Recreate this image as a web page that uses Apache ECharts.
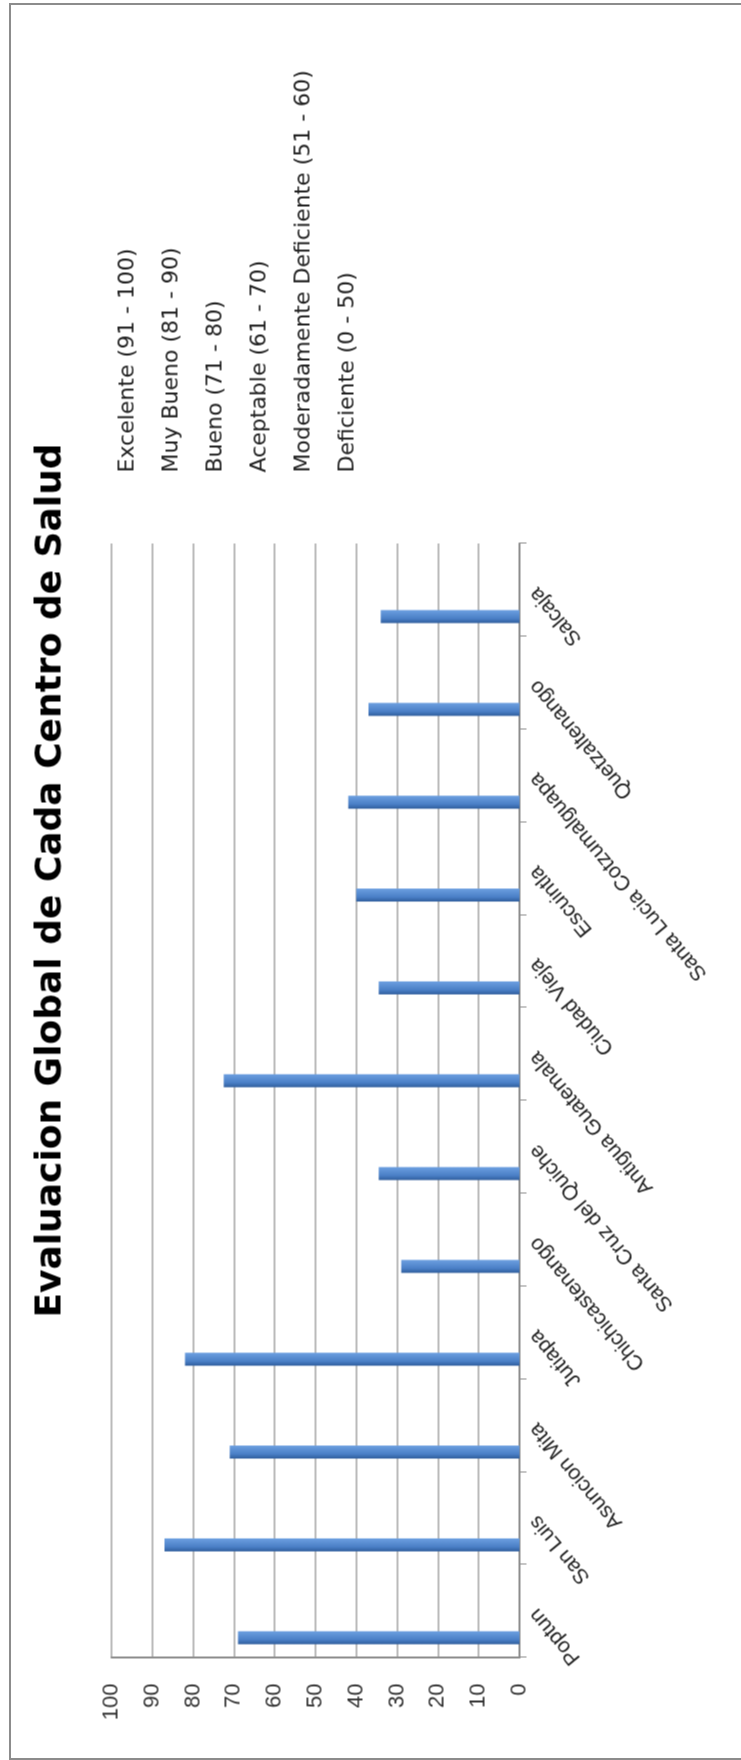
<!DOCTYPE html>
<html>
<head>
<meta charset="utf-8">
<script src="https://cdn.jsdelivr.net/npm/echarts@6/dist/echarts.min.js"></script>
<style>
html, body { margin: 0; padding: 0; background: #fff; }
body { width: 741px; height: 1760px; position: relative; overflow: hidden; }
#frame {
	position: absolute; left: 9px; top: 3px; width: 740px; height: 1753px;
	border-left: 2px solid #8c8c8c; border-top: 2px solid #8c8c8c; border-bottom: 2px solid #8c8c8c;
}
/* the chart is drawn landscape and turned a quarter to the left */
#chart {
	position: absolute; width: 1760px; height: 741px;
	left: -509.5px; top: 509.5px;
	transform: rotate(-90deg);
}
</style>
</head>
<body>
<div id="frame"></div>
<div id="chart"></div>
<script>
var centros = ['Poptun', 'San Luis', 'Asuncion Mita', 'Jutiapa', 'Chichicastenango',
	'Santa Cruz del Quiche', 'Antigua Guatemala', 'Ciudad Vieja', 'Escuintla',
	'Santa Lucia Cotzumalguapa', 'Quetzaltenango', 'Salcaja'];
var evaluacion = [69, 87, 71, 82, 29, 34.5, 72.5, 34.5, 40, 42, 37, 34];
var categorias = ['Excelente (91 - 100)', 'Muy Bueno (81 - 90)', 'Bueno (71 - 80)',
	'Aceptable (61 - 70)', 'Moderadamente Deficiente (51 - 60)', 'Deficiente (0 - 50)'];
var valorTicks = [0, 10, 20, 30, 40, 50, 60, 70, 80, 90, 100];

var myChart = echarts.init(document.getElementById('chart'));

var series = [
	{
		name: 'Evaluacion',
		type: 'bar',
		data: evaluacion,
		barWidth: 13,
		barGap: '310%',
		itemStyle: {
			color: new echarts.graphic.LinearGradient(0, 0, 1, 0, [
				{ offset: 0, color: '#2f5d9c' },
				{ offset: 0.35, color: '#4a7fc6' },
				{ offset: 1, color: '#6c9fe0' }
			])
		}
	},
	// empty slot so the bar sits towards the back of each category like the 3D original
	{ name: 'espacio', type: 'bar', data: [], barWidth: 13 }
];
categorias.forEach(function (c) {
	series.push({ name: c, type: 'line', data: [] });
});

var option = {
	animation: false,
	title: {
		text: 'Evaluacion Global de Cada Centro de Salud',
		left: 'center',
		top: 28,
		textStyle: { fontFamily: 'DejaVu Sans', fontWeight: 'bold', fontSize: 36, color: '#000' }
	},
	legend: {
		data: categorias,
		orient: 'vertical',
		left: 1278,
		top: 111,
		icon: 'none',
		itemWidth: 0,
		itemHeight: 14,
		itemGap: 22,
		textStyle: { fontFamily: 'DejaVu Sans', fontSize: 22, color: '#222', lineHeight: 22 }
	},
	grid: { left: 103, width: 1114, top: 111, height: 408, containLabel: false },
	xAxis: {
		type: 'category',
		data: centros,
		boundaryGap: true,
		axisLine: { lineStyle: { color: '#8c8c8c', width: 2 } },
		axisTick: { show: true, interval: 0, length: 7, lineStyle: { color: '#8c8c8c' } },
		axisLabel: {
			interval: 0, rotate: 40, margin: 14,
			fontFamily: 'Liberation Sans', fontSize: 21, color: '#222'
		}
	},
	yAxis: {
		type: 'value',
		min: valorTicks[0],
		max: valorTicks[valorTicks.length - 1],
		interval: 10,
		axisLine: { show: true, lineStyle: { color: '#8c8c8c', width: 2 } },
		axisTick: { show: false },
		splitLine: { lineStyle: { color: '#a3a3a3', width: 1.5 } },
		axisLabel: { margin: 26, fontFamily: 'Liberation Sans', fontSize: 22, color: '#333' }
	},
	series: series
};

myChart.setOption(option);
</script>
</body>
</html>
